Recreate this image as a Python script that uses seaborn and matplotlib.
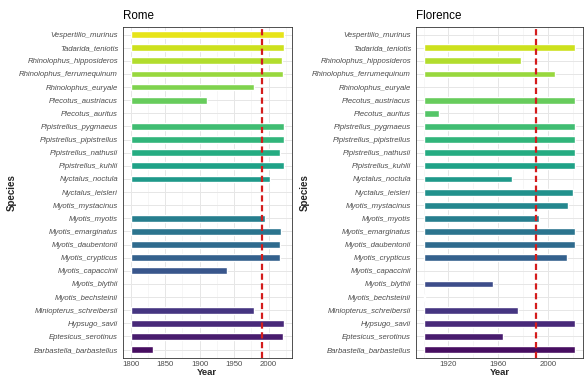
import numpy as np
import pandas as pd
import matplotlib
matplotlib.use("Agg")
import matplotlib.pyplot as plt
import seaborn as sns

# Species, bottom to top
species = [
    "Barbastella_barbastellus", "Eptesicus_serotinus", "Hypsugo_savii",
    "Miniopterus_schreibersii", "Myotis_bechsteinii", "Myotis_blythii",
    "Myotis_capaccinii", "Myotis_crypticus", "Myotis_daubentonii",
    "Myotis_emarginatus", "Myotis_myotis", "Myotis_mystacinus",
    "Nyctalus_leisleri", "Nyctalus_noctula", "Pipistrellus_kuhlii",
    "Pipistrellus_nathusii", "Pipistrellus_pipistrellus", "Pipistrellus_pygmaeus",
    "Plecotus_auritus", "Plecotus_austriacus", "Rhinolophus_euryale",
    "Rhinolophus_ferrumequinum", "Rhinolophus_hipposideros", "Tadarida_teniotis",
    "Vespertilio_murinus",
]

# Last year of records per species (NaN = no records)
rome_start = 1800
rome_end = [1832, 2021, 2022, 1979, np.nan, np.nan, 1940, 2017, 2017, 2018,
            1994, np.nan, np.nan, 2002, 2022, 2017, 2022, 2022, np.nan, 1911,
            1979, 2021, 2019, 2022, 2022]

florence_start = 1900
florence_end = [2022, 1964, 2022, 1976, 1901, 1956, np.nan, 2015, 2022, 2022,
                1993, 2016, 2020, 1971, 2022, 2022, 2022, 2022, 1912, 2022,
                np.nan, 2006, 1978, 2022, np.nan]

reference_year = 1990
rome_ticks = [1800, 1850, 1900, 1950, 2000]
florence_ticks = [1920, 1960, 2000]

sns.set_theme(style="whitegrid")
plt.rcParams["font.family"] = ["Liberation Sans", "DejaVu Sans"]

palette = sns.color_palette("viridis", len(species))

W, H = 584, 377
fig = plt.figure(figsize=(W / 100, H / 100), dpi=100)


def px_axes(left, top, right, bottom):
    return fig.add_axes([left / W, 1 - bottom / H, (right - left) / W, (bottom - top) / H])


def draw_panel(ax, title, start, ends, ticks, minor, ylab_x):
    df = pd.DataFrame({"species": species, "start": start, "end": ends})
    df["pos"] = np.arange(len(species))
    df = df.dropna()
    ax.barh(df["pos"], df["end"] - df["start"], left=df["start"], height=0.52,
            color=[palette[int(p)] for p in df["pos"]], zorder=2)
    ax.axvline(reference_year, color="#d41c1c", lw=1.6, ls=(0, (2.8, 1.6)), zorder=3)

    lo, hi = start, np.nanmax(ends)
    pad = 0.05 * (hi - lo)
    ax.set_xlim(lo - pad, hi + pad)
    ax.set_ylim(-0.6, len(species) - 0.4)
    ax.set_xticks(ticks)
    ax.set_xticks(minor, minor=True)
    ax.set_yticks(np.arange(len(species)))
    ax.set_yticklabels(species, fontstyle="italic", fontsize=5.6, color="#4D4D4D")
    ax.tick_params(axis="x", labelsize=5.6, labelcolor="#4D4D4D", length=1.5,
                   width=0.5, color="#333333", pad=1.2)
    ax.tick_params(axis="y", length=2, width=0.5, color="#333333", pad=1.5)
    ax.tick_params(which="minor", length=0)
    ax.grid(True, which="major", color="#E6E6E6", lw=0.7, zorder=0)
    ax.grid(True, which="minor", axis="x", color="#F0F0F0", lw=0.4, zorder=0)
    ax.set_axisbelow(True)
    for s in ax.spines.values():
        s.set_color("#333333")
        s.set_linewidth(0.6)
    ax.set_facecolor("white")
    bb = ax.get_position()
    ax.text(0, (1 - 16 / H - bb.y0) / bb.height, title, transform=ax.transAxes,
            fontsize=8.4, ha="left", va="center", color="black")
    ax.set_xlabel("Year", fontsize=6.8, fontweight="bold")
    ax.set_ylabel("Species", fontsize=7, fontweight="bold")
    ax.yaxis.set_label_coords((ylab_x / W - bb.x0) / bb.width, 0.5)
    ax.yaxis.label.set_va("center")
    ax.xaxis.set_label_coords(0.5, (1 - 372.8 / H - bb.y0) / bb.height)
    ax.xaxis.label.set_va("center")


ax1 = px_axes(123, 26.7, 291.5, 357.5)
draw_panel(ax1, "Rome", rome_start, rome_end, rome_ticks,
           [1825, 1875, 1925, 1975, 2025], 12)

ax2 = px_axes(416, 26.7, 583, 357.5)
draw_panel(ax2, "Florence", florence_start, florence_end, florence_ticks,
           [1900, 1940, 1980, 2020], 305)

fig.savefig("out.png", dpi=100, facecolor="white")
